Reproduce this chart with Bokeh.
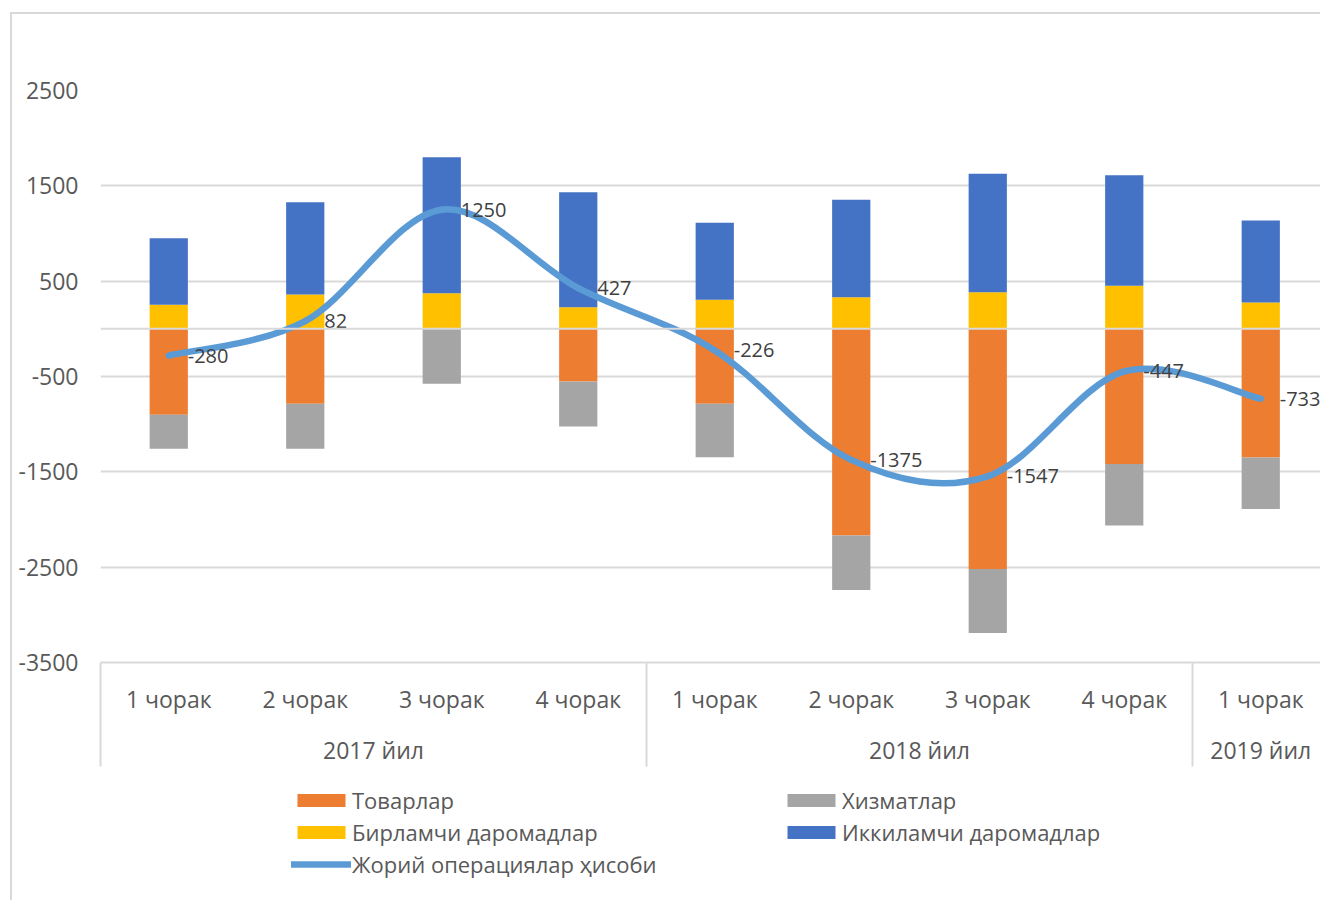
from bokeh.plotting import figure
from bokeh.layouts import column
from bokeh.models import (ColumnDataSource, FixedTicker, LinearAxis, Range1d, Span,
                          Legend, LegendItem, Grid)
from bokeh.core.properties import value
from bokeh.embed import file_html
from bokeh.resources import INLINE

# ---------------- data ----------------
quarters = ["1 чорак", "2 чорак", "3 чорак", "4 чорак",
            "1 чорак", "2 чорак", "3 чорак", "4 чорак", "1 чорак"]
years = ["2017 йил", "2018 йил", "2019 йил"]
quarters_per_year = [4, 4, 1]

goods = [-900, -787, 0, -553, -787, -2169, -2518, -1417, -1350]
services = [-359, -472, -577, -472, -560, -570, -672, -647, -539]
primary = [252, 360, 374, 227, 304, 332, 384, 451, 276]
secondary = [699, 968, 1427, 1206, 808, 1022, 1242, 1161, 860]
current = [-280, 82, 1250, 427, -226, -1375, -1547, -447, -733]

yticks = [-3500, -2500, -1500, -500, 500, 1500, 2500]
series_names = ["Товарлар", "Хизматлар", "Бирламчи даромадлар",
                "Иккиламчи даромадлар", "Жорий операциялар ҳисоби"]

# ---------------- styling ----------------
C_GOODS, C_SERV, C_PRIM, C_SEC, C_LINE = "#ED7D31", "#A5A5A5", "#FFC000", "#4472C4", "#5B9BD5"
GRID = "#D9D9D9"
FONT = "Open Sans"
TXT = "#595959"

W, H_MAIN, H_LEG = 1320, 772, 128
LEFT, TOP, BOTTOM = 100, 90, 110
xs = list(range(len(quarters)))
cat_px = 136.5
frame_w = W - LEFT

p = figure(width=W, height=H_MAIN,
           x_range=Range1d(-0.5, -0.5 + frame_w / cat_px),
           y_range=Range1d(yticks[0], yticks[-1]),
           x_axis_type=None, y_axis_type=None,
           output_backend="svg", toolbar_location=None,
           min_border_left=LEFT, min_border_right=0,
           min_border_top=TOP, min_border_bottom=BOTTOM)
p.outline_line_color = None
p.background_fill_color = "white"
p.border_fill_alpha = 0

yticker = FixedTicker(ticks=yticks)
p.add_layout(Grid(dimension=1, ticker=yticker, grid_line_color=GRID, grid_line_width=2))

# bars
src = ColumnDataSource(dict(x=xs, goods=goods, services=services,
                            primary=primary, secondary=secondary, current=current))
p.vbar_stack(["goods", "services"], x="x", width=0.28, source=src,
             fill_color=[C_GOODS, C_SERV], line_color=None)
p.vbar_stack(["primary", "secondary"], x="x", width=0.28, source=src,
             fill_color=[C_PRIM, C_SEC], line_color=None)

p.add_layout(Span(location=0, dimension="width", line_color=GRID, line_width=2))

# smoothed line (Catmull-Rom style bezier through the data points)
n = len(xs)
bx0, by0, bx1, by1, cx0, cy0, cx1, cy1 = [], [], [], [], [], [], [], []
for i in range(n - 1):
    a = max(i - 1, 0)
    b = min(i + 2, n - 1)
    bx0.append(xs[i]); by0.append(current[i])
    bx1.append(xs[i + 1]); by1.append(current[i + 1])
    cx0.append(xs[i] + (xs[i + 1] - xs[a]) / 6)
    cy0.append(current[i] + (current[i + 1] - current[a]) / 6)
    cx1.append(xs[i + 1] - (xs[b] - xs[i]) / 6)
    cy1.append(current[i + 1] - (current[b] - current[i]) / 6)
p.bezier(x0=bx0, y0=by0, x1=bx1, y1=by1, cx0=cx0, cy0=cy0, cx1=cx1, cy1=cy1,
         line_color=C_LINE, line_width=6.5, line_cap="round")

p.text(x=xs, y=current, text=[str(v) for v in current], x_offset=19,
       text_baseline="middle", text_align="left",
       text_font=value(FONT), text_font_size="20px", text_color="#404040")

# y axis
yaxis = LinearAxis(ticker=yticker, axis_line_color=None, major_tick_line_color=None,
                   minor_tick_line_color=None, major_tick_out=0, major_tick_in=0,
                   major_label_overrides={t: str(t) for t in yticks},
                   major_label_standoff=22, major_label_text_font=FONT,
                   major_label_text_font_size="23px", major_label_text_color=TXT)
p.add_layout(yaxis, "left")

# category axes
bounds = [-0.5]
for c in quarters_per_year:
    bounds.append(bounds[-1] + c)
year_centers = [(bounds[i] + bounds[i + 1]) / 2 for i in range(len(years))]
seps = bounds[:-1]

qaxis = LinearAxis(ticker=FixedTicker(ticks=xs, minor_ticks=seps),
                   major_label_overrides={x: q for x, q in zip(xs, quarters)},
                   axis_line_color=GRID, axis_line_width=2,
                   major_tick_line_color=None, major_tick_out=0, major_tick_in=0,
                   minor_tick_line_color=GRID, minor_tick_line_width=2,
                   minor_tick_out=104, minor_tick_in=0,
                   major_label_standoff=-84, major_label_text_font=FONT,
                   major_label_text_font_size="23px", major_label_text_color=TXT)
p.add_layout(qaxis, "below")
yraxis = LinearAxis(ticker=FixedTicker(ticks=year_centers),
                    major_label_overrides={c: y for c, y in zip(year_centers, years)},
                    axis_line_color=None, major_tick_line_color=None,
                    minor_tick_line_color=None, major_tick_out=0, major_tick_in=0,
                    major_label_standoff=16, major_label_text_font=FONT,
                    major_label_text_font_size="23px", major_label_text_color=TXT)
p.add_layout(yraxis, "below")

# ---------------- legend strip ----------------
# the strip's ranges lie far above the data, so its renderers only feed the legend
lf = figure(width=W, height=H_LEG, x_range=Range1d(-0.5, 8.5), y_range=Range1d(100000, 100001),
            x_axis_type=None, y_axis_type=None, output_backend="svg",
            toolbar_location=None, min_border=0)
lf.outline_line_color = None
lf.background_fill_alpha = 0
lf.border_fill_alpha = 0

r_goods = lf.vbar(x="x", top="goods", width=0.28, source=src, fill_color=C_GOODS, line_color=None)
r_serv = lf.vbar(x="x", top="services", width=0.28, source=src, fill_color=C_SERV, line_color=None)
r_prim = lf.vbar(x="x", top="primary", width=0.28, source=src, fill_color=C_PRIM, line_color=None)
r_sec = lf.vbar(x="x", top="secondary", width=0.28, source=src, fill_color=C_SEC, line_color=None)
r_line = lf.line(x="x", y="current", source=src, line_color=C_LINE, line_width=6.5, line_cap="round")

def mk_legend(items, loc):
    return Legend(items=items, location=loc, border_line_color=None,
                  background_fill_alpha=0, padding=0, margin=0, spacing=0,
                  glyph_width=60, glyph_height=16, label_standoff=1,
                  label_height=32, label_text_font=FONT,
                  label_text_font_size="22px", label_text_color=TXT)

# strip frame is aligned with the chart frame (starts 100px in)
leg1 = mk_legend([LegendItem(label=series_names[0], renderers=[r_goods]),
                  LegendItem(label=series_names[2], renderers=[r_prim]),
                  LegendItem(label=series_names[4], renderers=[r_line])], (191, 20))
leg2 = mk_legend([LegendItem(label=series_names[1], renderers=[r_serv]),
                  LegendItem(label=series_names[3], renderers=[r_sec])], (681, 52))
lf.add_layout(leg1)
lf.add_layout(leg2)

layout = column(p, lf, spacing=0)
layout.styles = {"box-shadow": "inset 10px 12px 0 0 #FFFFFF, inset 12px 14px 0 0 #D9D9D9",
                 "background-color": "white"}

open("out.html", "w").write(file_html(layout, INLINE))
